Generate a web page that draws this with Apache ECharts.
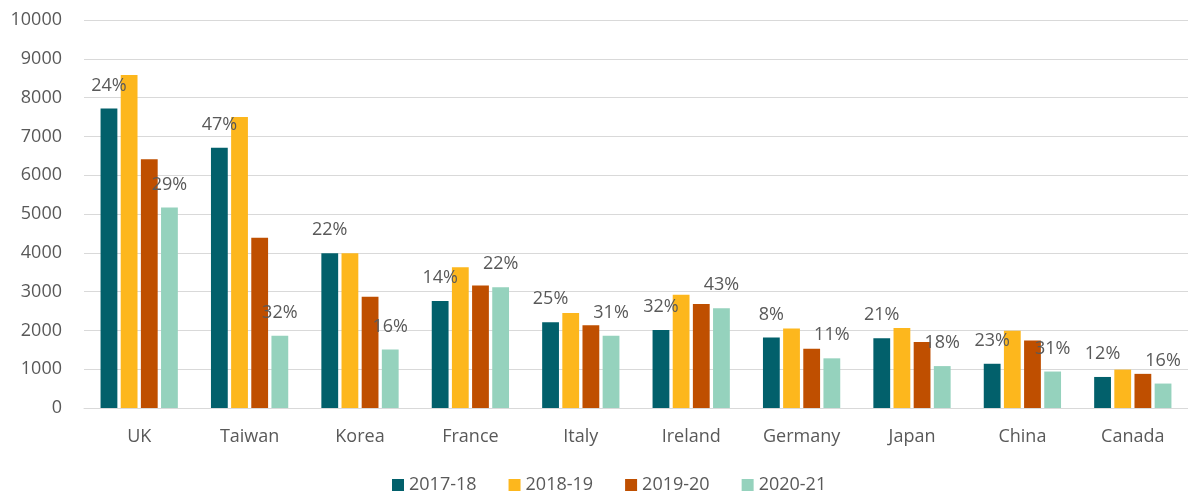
<!DOCTYPE html>
<html>
<head>
<meta charset="utf-8">
<script src="https://cdn.jsdelivr.net/npm/echarts@6/dist/echarts.min.js"></script>
<style>
html,body{margin:0;padding:0;background:#fff;}
#chart{width:1188px;height:495px;}
</style>
</head>
<body>
<div id="chart"></div>
<script>
const categories = ['UK','Taiwan','Korea','France','Italy','Ireland','Germany','Japan','China','Canada'];
const seriesNames = ['2017-18','2018-19','2019-20','2020-21'];
const v2017 = [7720, 6710, 3990, 2760, 2210, 2010, 1820, 1800, 1140, 800];
const v2018 = [8580, 7500, 3990, 3630, 2450, 2920, 2050, 2060, 1990, 990];
const v2019 = [6410, 4390, 2870, 3160, 2130, 2680, 1530, 1700, 1740, 880];
const v2020 = [5170, 1860, 1510, 3110, 1860, 2570, 1280, 1080, 940, 630];
const pctFirst = ['24%','47%','22%','14%','25%','32%','8%','21%','23%','12%'];
const pctLast = ['29%','32%','16%','22%','31%','43%','11%','18%','31%','16%'];
const yTicks = [0,1000,2000,3000,4000,5000,6000,7000,8000,9000,10000];

const colors = ['#02606b','#fdb71d','#bf4f00','#95d2bd'];
const FONT = '"Open Sans", "Liberation Sans", sans-serif';
const TXT = '#595959';

const chart = echarts.init(document.getElementById('chart'), null, {renderer:'canvas'});
const vals = [v2017, v2018, v2019, v2020];

function mkSeries(i){
  const s = {
    name: seriesNames[i],
    type: 'bar',
    data: vals[i],
    itemStyle: {color: colors[i]},
    barGap: '20%',
    barCategoryGap: '30%',
    animation: false
  };
  if (i === 0 || i === 3) {
    const arr = i === 0 ? pctFirst : pctLast;
    s.label = {
      show: true,
      position: 'top',
      distance: 14,
      color: TXT,
      fontFamily: FONT,
      fontSize: 18,
      formatter: p => arr[p.dataIndex]
    };
  }
  return s;
}

chart.setOption({
  animation: false,
  color: colors,
  grid: {left: 84, right: 0, top: 20, bottom: 87, containLabel: false},
  legend: {
    bottom: -4,
    left: 387,
    itemWidth: 12,
    itemHeight: 12,
    itemGap: 32,
    icon: 'rect',
    textStyle: {color: TXT, fontFamily: FONT, fontSize: 18},
    data: seriesNames
  },
  xAxis: {
    type: 'category',
    data: categories,
    axisLine: {show: true, lineStyle: {color: '#d9d9d9', width: 1}},
    axisTick: {show: false},
    axisLabel: {color: TXT, fontFamily: FONT, fontSize: 18, margin: 20}
  },
  yAxis: {
    type: 'value',
    min: yTicks[0],
    max: yTicks[yTicks.length-1],
    interval: 1000,
    axisLine: {show: false},
    axisTick: {show: false},
    splitLine: {lineStyle: {color: '#d9d9d9', width: 1}},
    axisLabel: {color: TXT, fontFamily: FONT, fontSize: 18, margin: 22, formatter: v => String(v)}
  },
  series: [0,1,2,3].map(mkSeries)
});
</script>
</body>
</html>
